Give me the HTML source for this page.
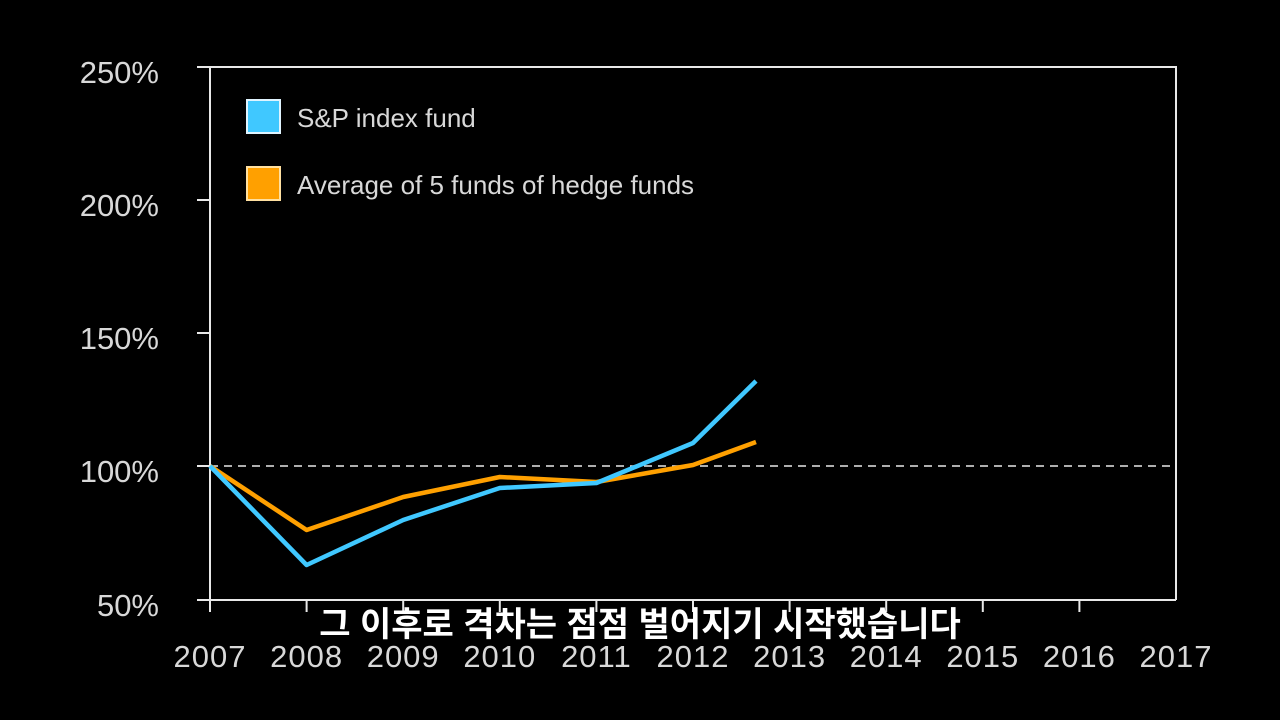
<!DOCTYPE html>
<html><head><meta charset="utf-8"><style>
html,body{margin:0;padding:0;background:#000;width:1280px;height:720px;overflow:hidden}
</style></head><body>
<svg width="1280" height="720" xmlns="http://www.w3.org/2000/svg" style="display:block">
<rect width="1280" height="720" fill="#000"/>
<g stroke="#e8e8e8" stroke-width="2" fill="none">
<polyline points="210,67 1176,67 1176,600"/>
<line x1="210" y1="67" x2="210" y2="612"/>
<line x1="197" y1="600" x2="1176" y2="600"/>
<line x1="197" y1="67" x2="210" y2="67"/>
<line x1="197" y1="200" x2="210" y2="200"/>
<line x1="197" y1="333" x2="210" y2="333"/>
<line x1="197" y1="466" x2="210" y2="466"/>
<line x1="306.6" y1="600" x2="306.6" y2="612"/>
<line x1="403.2" y1="600" x2="403.2" y2="612"/>
<line x1="499.8" y1="600" x2="499.8" y2="612"/>
<line x1="596.4" y1="600" x2="596.4" y2="612"/>
<line x1="693" y1="600" x2="693" y2="612"/>
<line x1="789.6" y1="600" x2="789.6" y2="612"/>
<line x1="886.2" y1="600" x2="886.2" y2="612"/>
<line x1="982.8" y1="600" x2="982.8" y2="612"/>
<line x1="1079.4" y1="600" x2="1079.4" y2="612"/>
<line x1="210" y1="466" x2="1176" y2="466" stroke-dasharray="8,6" stroke-width="1.5"/>
</g>
<g font-family="Liberation Sans, sans-serif" font-size="31" fill="#d8d8d8" text-anchor="end">
<text x="159" y="83">250%</text>
<text x="159" y="216">200%</text>
<text x="159" y="349">150%</text>
<text x="159" y="482">100%</text>
<text x="159" y="616">50%</text>
</g>
<g font-family="Liberation Sans, sans-serif" font-size="31" fill="#d8d8d8" text-anchor="middle" letter-spacing="1">
<text x="210" y="667">2007</text><text x="306.6" y="667">2008</text><text x="403.2" y="667">2009</text>
<text x="499.8" y="667">2010</text><text x="596.4" y="667">2011</text><text x="693" y="667">2012</text>
<text x="789.6" y="667">2013</text><text x="886.2" y="667">2014</text><text x="982.8" y="667">2015</text>
<text x="1079.4" y="667">2016</text><text x="1176" y="667">2017</text>
</g>
<polyline fill="none" stroke="#ffa000" stroke-width="4.5" stroke-linejoin="round" points="210,466 306.6,530 403.2,497 499.8,477 596.4,482 693,465 756,442"/>
<polyline fill="none" stroke="#40c8ff" stroke-width="4.5" stroke-linejoin="round" points="210,466 306.6,565 403.2,520 499.8,488 596.4,483 693,443 756,381"/>
<rect x="247" y="100" width="33" height="33" fill="#40c8ff" stroke="#e0f4ff" stroke-width="2"/>
<rect x="247" y="167" width="33" height="33" fill="#ffa000" stroke="#ffe0a0" stroke-width="2"/>
<g font-family="Liberation Sans, sans-serif" font-size="26" fill="#d8d8d8">
<text x="297" y="127">S&amp;P index fund</text>
<text x="297" y="194">Average of 5 funds of hedge funds</text>
</g>
<text x="640" y="636" text-anchor="middle" font-family="Liberation Sans, 'Noto Sans CJK KR', sans-serif" font-size="34" font-weight="bold" fill="#fff">그 이후로 격차는 점점 벌어지기 시작했습니다</text>
</svg>
</body></html>
